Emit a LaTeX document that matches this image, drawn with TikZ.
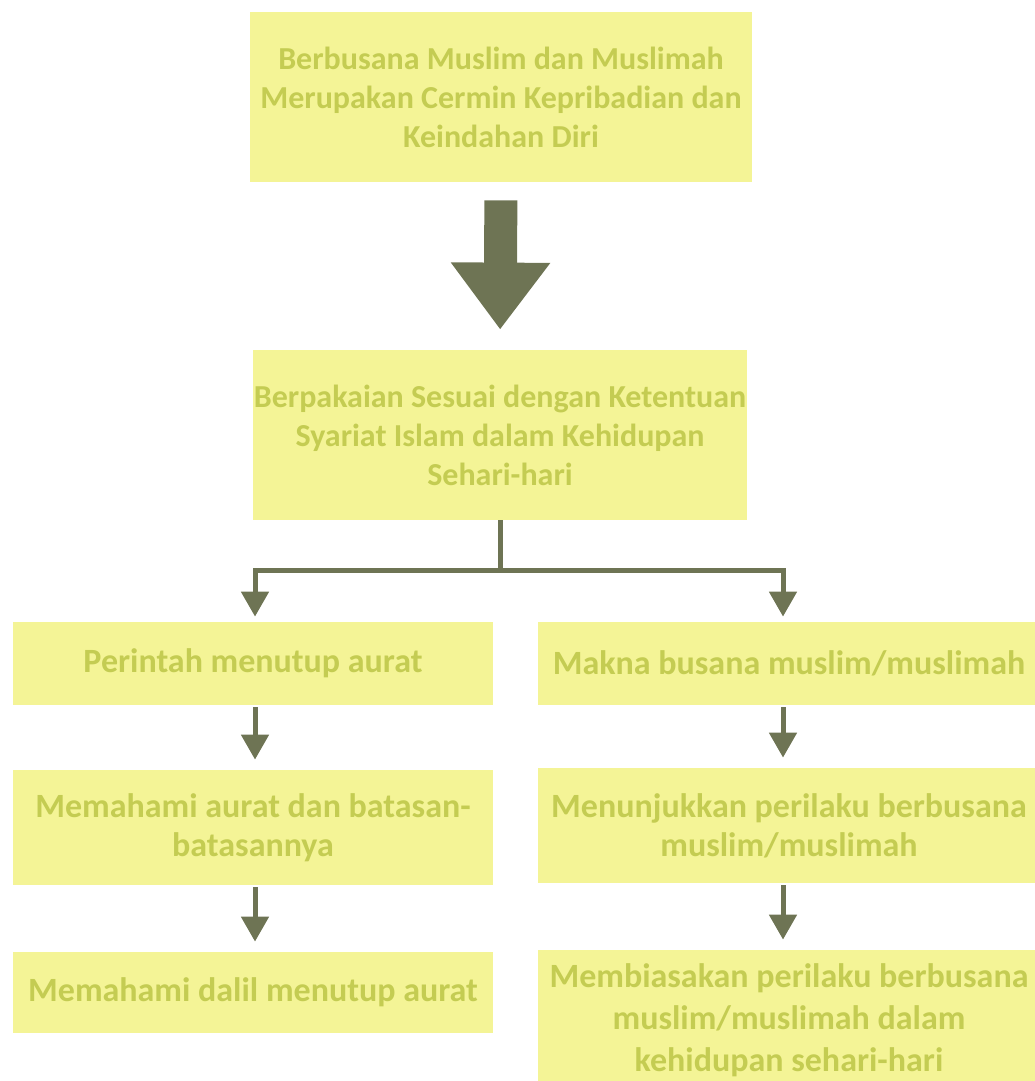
\documentclass[tikz,border=0pt]{standalone}
\usepackage{fontspec}
\setmainfont{Carlito}
\usepackage{xcolor}
\usepackage{tikz}
\usetikzlibrary{calc,positioning,arrows.meta}

\definecolor{boxfill}{RGB}{244,244,150}
\definecolor{boxtext}{RGB}{196,204,82}
\definecolor{arrowcol}{RGB}{110,116,84}

\begin{document}
\begin{tikzpicture}[align=center,
    box/.style={fill=boxfill, text=boxtext, inner sep=0pt, font=\bfseries\fontsize{17}{19.5}\selectfont},
    headbox/.style={box, font=\bfseries\fontsize{16}{19.5}\selectfont},
    link/.style={draw=arrowcol, line width=2.5pt, line join=miter, -{Triangle[length=12.5pt,width=13.5pt]}},
    bigarrow/.style={draw=arrowcol, line width=16.5pt, -{Triangle[length=33.5pt,width=47.5pt]}}]
    \useasboundingbox (0,0) rectangle (517pt,-540.5pt);

    \node [headbox, minimum width=251pt, minimum height=85pt] (top) at (250.5pt,-48.5pt)
        {Berbusana Muslim dan Muslimah\\Merupakan Cermin Kepribadian dan\\Keindahan Diri};
    \node [headbox, minimum width=247pt, minimum height=85pt] (mid) at (250pt,-217.5pt)
        {Berpakaian Sesuai dengan Ketentuan\\Syariat Islam dalam Kehidupan\\Sehari-hari};

    % left column
    \node [box, minimum width=240pt, minimum height=41.5pt] (aurat) at (126.5pt,-331.75pt)
        {Perintah menutup aurat};
    \node [box, minimum width=240pt, minimum height=57.5pt] (batas) at (126.5pt,-413.75pt)
        {Memahami aurat dan batasan-\\batasannya};
    \node [box, minimum width=240pt, minimum height=40.5pt] (dalil) at (126.5pt,-496.25pt)
        {Memahami dalil menutup aurat};

    % right column
    \node [box, minimum width=251pt, minimum height=41.5pt] (makna) at (394.5pt,-331.75pt)
        {Makna busana muslim/muslimah};
    \node [box, minimum width=251pt, minimum height=57.5pt] (perilaku) at (394.5pt,-412.75pt)
        {Menunjukkan perilaku berbusana\\muslim/muslimah};
    \node [box, minimum width=251pt, minimum height=70pt, font=\bfseries\fontsize{17}{21}\selectfont] (biasa) at (394.5pt,-510pt)
        {Membiasakan perilaku berbusana\\muslim/muslimah dalam\\kehidupan sehari-hari};

    \draw [bigarrow, shorten <=9pt, shorten >=10pt] (top.south) -- (mid.north);

    \coordinate (split) at ($(mid.south)+(0,-25pt)$);
    \draw [draw=arrowcol, line width=2.5pt] (mid.south) -- (split);
    \draw [link, shorten >=2.5pt] (split) -| ([xshift=1pt]aurat.north);
    \draw [link, shorten >=2.5pt] (split) -| ([xshift=-3pt]makna.north);

    \draw [link, shorten <=1pt, shorten >=5pt] ([xshift=1pt]aurat.south) -- ([xshift=1pt]batas.north);
    \draw [link, shorten <=1pt, shorten >=5pt] ([xshift=1pt]batas.south) -- ([xshift=1pt]dalil.north);
    \draw [link, shorten <=1pt, shorten >=5pt] ([xshift=-3pt]makna.south) -- ([xshift=-3pt]perilaku.north);
    \draw [link, shorten <=1pt, shorten >=5pt] ([xshift=-3pt]perilaku.south) -- ([xshift=-3pt]biasa.north);

\end{tikzpicture}
\end{document}
